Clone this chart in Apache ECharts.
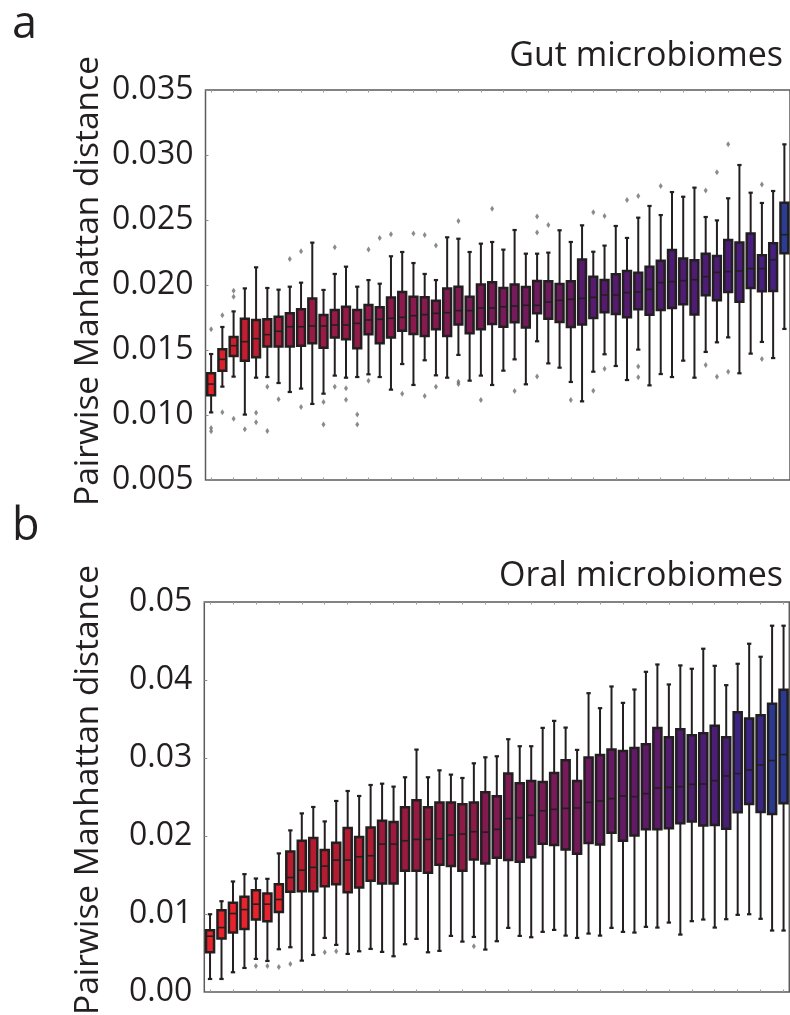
<!DOCTYPE html>
<html>
<head>
<meta charset="utf-8">
<script src="https://cdn.jsdelivr.net/npm/echarts@6/dist/echarts.min.js"></script>
<style>
  html, body { margin: 0; padding: 0; background: #fff; }
  #chart { width: 790px; height: 1015px; }
</style>
</head>
<body>
<div id="chart"></div>
<script>
// ---------------- DATA ----------------
// Panel a: Gut microbiomes (52 boxes, sorted by median)
const gutLow = [0.01020,0.01218,0.01295,0.01003,0.01287,0.01292,0.01246,0.01177,0.01203,0.01085,
  0.01164,0.01303,0.01287,0.01292,0.01313,0.01292,0.01195,0.01392,0.01231,0.01421,
  0.01305,0.01287,0.01462,0.01264,0.01303,0.01231,0.01341,0.01428,0.01236,0.01567,
  0.01397,0.01364,0.01254,0.01105,0.01333,0.01467,0.01377,0.01269,0.01503,0.01228,
  0.01315,0.01292,0.01418,0.01287,0.01485,0.01559,0.01597,0.01321,0.01472,0.01562,
  0.01438,0.01662];
const gutQ1 = [0.01151,0.01341,0.01454,0.01418,0.01444,0.01526,0.01526,0.01526,0.01533,0.01551,
  0.01518,0.01597,0.01582,0.01513,0.01621,0.01551,0.01597,0.01649,0.01623,0.01608,
  0.01659,0.01608,0.01697,0.01628,0.01659,0.01700,0.01679,0.01713,0.01674,0.01782,
  0.01741,0.01715,0.01677,0.01697,0.01746,0.01790,0.01777,0.01751,0.01813,0.01772,
  0.01808,0.01823,0.01851,0.01774,0.01921,0.01882,0.01946,0.01872,0.01977,0.01951,
  0.01954,0.02244];
const gutMedian = [0.01238,0.01428,0.01533,0.01564,0.01587,0.01618,0.01644,0.01679,0.01679,0.01685,
  0.01685,0.01692,0.01692,0.01705,0.01731,0.01736,0.01744,0.01751,0.01764,0.01772,
  0.01782,0.01787,0.01803,0.01803,0.01823,0.01823,0.01833,0.01838,0.01844,0.01844,
  0.01869,0.01882,0.01890,0.01897,0.01905,0.01923,0.01923,0.01941,0.01946,0.01967,
  0.02018,0.02026,0.02033,0.02041,0.02064,0.02097,0.02103,0.02108,0.02126,0.02126,
  0.02195,0.02387];
const gutQ3 = [0.01321,0.01505,0.01600,0.01741,0.01731,0.01736,0.01756,0.01782,0.01813,0.01897,
  0.01769,0.01808,0.01833,0.01808,0.01846,0.01828,0.01903,0.01946,0.01910,0.01905,
  0.01879,0.01974,0.01987,0.01910,0.02003,0.02021,0.01977,0.02003,0.01985,0.02031,
  0.02028,0.02008,0.02028,0.02197,0.02064,0.02038,0.02082,0.02108,0.02095,0.02141,
  0.02187,0.02269,0.02203,0.02190,0.02241,0.02223,0.02346,0.02326,0.02397,0.02228,
  0.02321,0.02633];
const gutHigh = [0.01469,0.01677,0.01797,0.01974,0.02136,0.01977,0.01964,0.01987,0.02018,0.02326,
  0.01962,0.02085,0.02141,0.01987,0.02038,0.02010,0.02221,0.02254,0.02169,0.02085,
  0.02038,0.02367,0.02356,0.02254,0.02318,0.02331,0.02272,0.02423,0.02241,0.02241,
  0.02249,0.02421,0.02331,0.02459,0.02256,0.02303,0.02454,0.02362,0.02518,0.02608,
  0.02538,0.02715,0.02679,0.02749,0.02523,0.02497,0.02667,0.02923,0.02710,0.02631,
  0.02723,0.03082];
// outliers: [box index, value]
const gutOutliers = [
  [0,0.01659],[0,0.00900],[0,0.00875],[1,0.01767],[1,0.01021],
  [2,0.01956],[2,0.01910],[2,0.00972],[3,0.00890],[4,0.01018],[4,0.00944],
  [5,0.01218],[5,0.00877],[6,0.01121],[7,0.02200],[8,0.02259],[8,0.01062],
  [10,0.01100],[10,0.00926],[11,0.02290],[11,0.01218],[12,0.01205],[12,0.01118],
  [13,0.01003],[13,0.00926],[14,0.02274],[14,0.01264],[15,0.02362],[16,0.02390],
  [17,0.01164],[18,0.02397],[19,0.02385],[19,0.01146],[20,0.02303],[20,0.01218],
  [22,0.02492],[22,0.01256],[22,0.01238],[24,0.01115],[25,0.02587],[27,0.01185],
  [29,0.02526],[29,0.02403],[29,0.01297],[30,0.02462],[32,0.01115],
  [34,0.02559],[34,0.01187],[35,0.02531],[35,0.01356],[37,0.02654],
  [38,0.02685],[38,0.01374],[38,0.01290],[40,0.02762],[44,0.02726],[44,0.01385],
  [45,0.02867],[45,0.01295],[46,0.03082],[46,0.01333],[49,0.02774],[49,0.01431]
];
const gutTicks = [0.005,0.010,0.015,0.020,0.025,0.030,0.035];

// Panel b: Oral microbiomes (51 boxes)
const oralLow = [0.00167,0.00167,0.00253,0.00308,0.00424,0.00398,0.00548,0.00574,0.00402,0.00475,
  0.00693,0.00604,0.00488,0.00522,0.00552,0.00514,0.00458,0.00612,0.00681,0.00509,
  0.00527,0.00719,0.00646,0.00706,0.00544,0.00651,0.00822,0.00719,0.00702,0.00771,
  0.00796,0.00723,0.00693,0.00749,0.00723,0.00822,0.00771,0.00762,0.00835,0.00826,
  0.00890,0.00736,0.00908,0.00929,0.00826,0.00933,0.00989,0.00997,0.00938,0.00788,
  0.00788];
const oralQ1 = [0.00509,0.00685,0.00762,0.00809,0.00929,0.00908,0.01027,0.01284,0.01293,0.01293,
  0.01357,0.01383,0.01280,0.01340,0.01426,0.01391,0.01391,0.01554,0.01554,0.01528,
  0.01631,0.01614,0.01554,0.01699,0.01648,0.01721,0.01691,0.01670,0.01729,0.01901,
  0.01884,0.01828,0.01772,0.01909,0.01892,0.02042,0.01939,0.02008,0.02085,0.02085,
  0.02098,0.02162,0.02187,0.02136,0.02140,0.02093,0.02303,0.02410,0.02307,0.02282,
  0.02419];
const oralMedian = [0.00715,0.00826,0.01006,0.01057,0.01126,0.01126,0.01186,0.01468,0.01562,0.01597,
  0.01614,0.01691,0.01691,0.01734,0.01747,0.01896,0.01896,0.01939,0.01956,0.01956,
  0.01965,0.02012,0.02025,0.02055,0.02050,0.02085,0.02222,0.02235,0.02265,0.02324,
  0.02342,0.02354,0.02359,0.02431,0.02449,0.02479,0.02513,0.02504,0.02543,0.02616,
  0.02624,0.02633,0.02663,0.02667,0.02710,0.02770,0.02800,0.02847,0.02911,0.02967,
  0.03044];
const oralQ3 = [0.00792,0.01049,0.01143,0.01220,0.01306,0.01263,0.01383,0.01802,0.01939,0.01973,
  0.01819,0.01914,0.02102,0.01986,0.02110,0.02196,0.02179,0.02367,0.02457,0.02367,
  0.02431,0.02431,0.02406,0.02431,0.02560,0.02509,0.02800,0.02676,0.02705,0.02693,
  0.02808,0.02971,0.02705,0.03005,0.03039,0.03108,0.03091,0.03129,0.03176,0.03386,
  0.03266,0.03369,0.03292,0.03318,0.03412,0.03266,0.03587,0.03506,0.03549,0.03694,
  0.03874];
const oralHigh = [0.00997,0.01164,0.01417,0.01511,0.01455,0.01451,0.01777,0.02072,0.02290,0.02372,
  0.02187,0.02449,0.02577,0.02513,0.02654,0.02671,0.02633,0.02753,0.03108,0.02753,
  0.02842,0.02787,0.02744,0.02932,0.03009,0.03022,0.03241,0.03151,0.03151,0.03386,
  0.03476,0.03390,0.03104,0.03831,0.03639,0.03917,0.03707,0.03878,0.04105,0.04199,
  0.03943,0.04187,0.04144,0.04401,0.04182,0.03934,0.04208,0.04465,0.04298,0.04696,
  0.04696];
const oralOutliers = [[4,0.00334],[5,0.00334],[6,0.00321],[7,0.00360],[10,0.00509],[11,0.00522],[23,0.00586]];
const oralTicks = [0.00,0.01,0.02,0.03,0.04,0.05];

// ---------------- STYLE ----------------
const gutColorStops = [[0,'#e8212a'],[1,'#da2029'],[2,'#cc1f2c'],[3,'#c21e30'],[5,'#b51d34'],[7,'#9e1a44'],
  [16,'#8e1a4c'],[25,'#7a1a57'],[32,'#6a1a62'],[33,'#571a6d'],[44,'#4e1c74'],[50,'#452080'],[51,'#2b3c93']];
const oralColorStops = [[0,'#e8232b'],[6,'#e8232b'],[7,'#b91c2f'],[14,'#b01c32'],[15,'#9e1a3d'],[23,'#8c1a47'],
  [24,'#821a50'],[32,'#741a5a'],[33,'#6c1a60'],[39,'#5c1a69'],[40,'#521c70'],[45,'#4a1e76'],[46,'#3e2482'],
  [48,'#3b2684'],[49,'#2b3990'],[50,'#2b3990']];

function hex2rgb(h){ return [1,3,5].map(k=>parseInt(h.substr(k,2),16)); }
function paletteFromStops(stops, n){
  const out = [];
  for (let i = 0; i < n; i++) {
    let a = stops[0], b = stops[stops.length-1];
    for (let s = 0; s < stops.length-1; s++) {
      if (i >= stops[s][0] && i <= stops[s+1][0]) { a = stops[s]; b = stops[s+1]; break; }
    }
    const t = b[0] === a[0] ? 0 : (i - a[0]) / (b[0] - a[0]);
    const ca = hex2rgb(a[1]), cb = hex2rgb(b[1]);
    const c = ca.map((v,k)=>Math.round(v + (cb[k]-v)*t));
    out.push('rgb(' + c.join(',') + ')');
  }
  return out;
}
const gutColors = paletteFromStops(gutColorStops, gutMedian.length);
const oralColors = paletteFromStops(oralColorStops, oralMedian.length);

const INK = '#231f20';
const FONT = '"Open Sans", "Noto Sans", sans-serif';

function makeBoxRender(colors){
  return function(params, api){
    const i = api.value(0);
    const lo = api.coord([i, api.value(1)]);
    const q1 = api.coord([i, api.value(2)]);
    const md = api.coord([i, api.value(3)]);
    const q3 = api.coord([i, api.value(4)]);
    const hi = api.coord([i, api.value(5)]);
    const band = api.size([1, 0])[0];
    const w = band - 3.4;
    const cap = band * 0.38;
    const x = lo[0];
    const ls = {stroke: INK, lineWidth: 2};
    return {
      type: 'group',
      children: [
        {type:'line', shape:{x1:x, y1:hi[1], x2:x, y2:q3[1]}, style: ls},
        {type:'line', shape:{x1:x, y1:q1[1], x2:x, y2:lo[1]}, style: ls},
        {type:'line', shape:{x1:x-cap/2, y1:hi[1], x2:x+cap/2, y2:hi[1]}, style:{stroke:INK, lineWidth:2.2}},
        {type:'line', shape:{x1:x-cap/2, y1:lo[1], x2:x+cap/2, y2:lo[1]}, style:{stroke:INK, lineWidth:2.2}},
        {type:'rect', shape:{x:x-w/2, y:q3[1], width:w, height:q1[1]-q3[1]},
          style:{fill: colors[i], stroke: INK, lineWidth: 2.5}},
        {type:'line', shape:{x1:x-w/2, y1:md[1], x2:x+w/2, y2:md[1]}, style:{stroke:INK, lineWidth:1.6}}
      ]
    };
  };
}

const gutBoxes = gutMedian.map((_, i) => [i, gutLow[i], gutQ1[i], gutMedian[i], gutQ3[i], gutHigh[i]]);
const oralBoxes = oralMedian.map((_, i) => [i, oralLow[i], oralQ1[i], oralMedian[i], oralQ3[i], oralHigh[i]]);

function catAxis(gridIndex, n, position){
  return {
    type: 'category', gridIndex: gridIndex, position: position,
    data: Array.from({length: n}, (_, i) => String(i + 1)),
    boundaryGap: true,
    axisLine: {show: false},
    axisLabel: {show: false},
    axisTick: {show: true, inside: true, alignWithLabel: true, length: 2.5, lineStyle: {color: '#9a9a9a', width: 1}},
    splitLine: {show: false}
  };
}
function valAxis(gridIndex, min, max, interval, digits){
  return {
    type: 'value', gridIndex: gridIndex, min: min, max: max, interval: interval,
    axisLine: {show: false},
    axisTick: {show: true, inside: true, length: 3, lineStyle: {color: '#8a8a8a'}},
    splitLine: {show: false},
    axisLabel: {
      margin: 12, fontSize: 32, color: INK, fontFamily: FONT,
      formatter: v => v.toFixed(digits)
    }
  };
}

const chart = echarts.init(document.getElementById('chart'), null, {renderer: 'canvas'});
chart.setOption({
  animation: false,
  backgroundColor: '#ffffff',
  grid: [
    {left: 205.5, top: 90, width: 586, height: 390, show: true, borderColor: '#5b5b5b', borderWidth: 1.5, backgroundColor: 'transparent'},
    {left: 204.3, top: 602, width: 585, height: 390, show: true, borderColor: '#5b5b5b', borderWidth: 1.5, backgroundColor: 'transparent'}
  ],
  xAxis: [
    catAxis(0, gutMedian.length, 'bottom'),
    catAxis(1, oralMedian.length, 'bottom'),
    catAxis(0, gutMedian.length, 'top'),
    catAxis(1, oralMedian.length, 'top')
  ],
  yAxis: [
    valAxis(0, gutTicks[0], gutTicks[gutTicks.length-1], 0.005, 3),
    valAxis(1, oralTicks[0], oralTicks[oralTicks.length-1], 0.01, 2)
  ],
  graphic: [
    {type:'text', left: 12, top: 3, style:{text:'a', font: '45px ' + FONT, fill: INK}},
    {type:'text', left: 12, top: 505, style:{text:'b', font: '45px ' + FONT, fill: INK}},
    {type:'text', right: 7, top: 39, style:{text:'Gut microbiomes', font: '34px ' + FONT, fill: INK}},
    {type:'text', right: 7, top: 559, style:{text:'Oral microbiomes', font: '34px ' + FONT, fill: INK}},
    {type:'text', x: 88, y: 281, rotation: Math.PI/2,
      style:{text:'Pairwise Manhattan distance', font: '33.5px ' + FONT, fill: INK, textAlign:'center', textVerticalAlign:'middle'}},
    {type:'text', x: 88, y: 790, rotation: Math.PI/2,
      style:{text:'Pairwise Manhattan distance', font: '33.5px ' + FONT, fill: INK, textAlign:'center', textVerticalAlign:'middle'}}
  ],
  series: [
    {type:'custom', name:'gut', xAxisIndex:0, yAxisIndex:0, data: gutBoxes,
      encode:{x:0, y:[1,2,3,4,5]}, renderItem: makeBoxRender(gutColors), z: 3},
    {type:'scatter', xAxisIndex:0, yAxisIndex:0, data: gutOutliers, symbol:'diamond', symbolSize:[4,6],
      itemStyle:{color:'#6d6e71'}, z: 2, silent: true},
    {type:'custom', name:'oral', xAxisIndex:1, yAxisIndex:1, data: oralBoxes,
      encode:{x:0, y:[1,2,3,4,5]}, renderItem: makeBoxRender(oralColors), z: 3},
    {type:'scatter', xAxisIndex:1, yAxisIndex:1, data: oralOutliers, symbol:'diamond', symbolSize:[4,6],
      itemStyle:{color:'#6d6e71'}, z: 2, silent: true}
  ]
});
</script>
</body>
</html>
